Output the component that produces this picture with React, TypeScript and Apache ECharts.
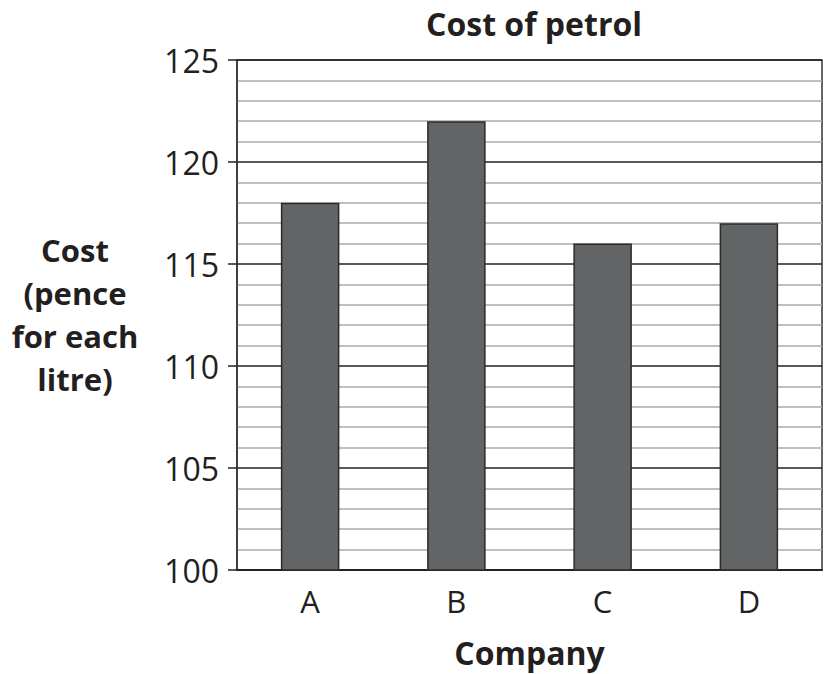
import React, { useEffect, useRef } from "react";
import * as echarts from "echarts";

const categories = ["A", "B", "C", "D"];
const costs = [118, 122, 116, 117];
const title = "Cost of petrol";
const xName = "Company";
const yNameLines = ["Cost", "(pence", "for each", "litre)"];

export default function App() {
  const ref = useRef<HTMLDivElement>(null);
  useEffect(() => {
    document.body.style.margin = "0";
    const chart = echarts.init(ref.current!, null, { renderer: "svg" });
    const font = "'Open Sans', sans-serif";
    const textColor = "#231f20";
    chart.setOption({
      animation: false,
      backgroundColor: "#ffffff",
      title: {
        text: title,
        left: 529,
        textAlign: "center",
        top: 2,
        textStyle: { fontFamily: font, fontSize: 32, fontWeight: "bold", color: textColor },
      },
      grid: {
        left: 237,
        right: 5,
        top: 60,
        bottom: 104,
        show: true,
        borderColor: "#333",
        borderWidth: 1.5,
        containLabel: false,
      },
      xAxis: {
        type: "category",
        data: categories,
        name: xName,
        nameLocation: "middle",
        nameGap: 66,
        nameTextStyle: { fontFamily: font, fontSize: 32, fontWeight: "bold", color: textColor },
        axisLine: { show: true, lineStyle: { color: "#222", width: 2 } },
        axisTick: { show: false },
        axisLabel: { fontFamily: font, fontSize: 31, color: textColor, margin: 15 },
      },
      yAxis: {
        type: "value",
        min: 100,
        max: 125,
        interval: 5,
        axisLine: { show: true, lineStyle: { color: "#333", width: 1.5 } },
        axisTick: { show: true, length: 9, lineStyle: { color: "#222", width: 1.5 } },
        axisLabel: { fontFamily: font, fontSize: 32, color: textColor, margin: 18 },
        splitLine: { show: true, lineStyle: { color: "#222", width: 1.5 } },
        minorTick: { show: false, splitNumber: 5 },
        minorSplitLine: { show: true, lineStyle: { color: "#aaaaaa", width: 1.5 } },
      },
      graphic: yNameLines.map((line, i) => ({
        type: "text",
        style: {
          text: line,
          x: 75,
          y: 250 + i * 43,
          fill: textColor,
          font: `bold 31px ${font}`,
          textAlign: "center",
          textVerticalAlign: "middle",
        },
      })),
      series: [
        {
          type: "bar",
          data: costs,
          barWidth: "40%",
          itemStyle: { color: "#636466", borderColor: "#2b2b2b", borderWidth: 1.5 },
        },
      ],
    });
    return () => chart.dispose();
  }, []);
  return <div ref={ref} style={{ width: 827, height: 674 }} />;
}
